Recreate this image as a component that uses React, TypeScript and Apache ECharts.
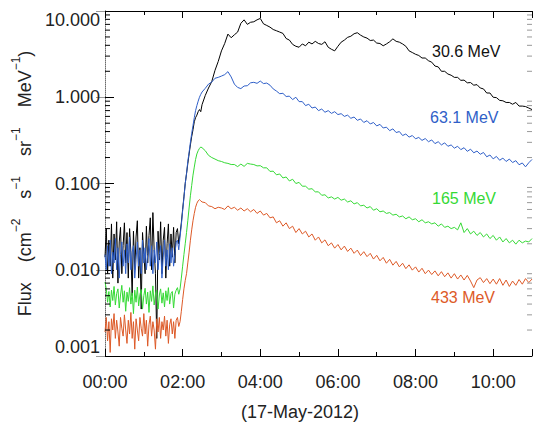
import React, { useEffect, useRef } from 'react';
import * as echarts from 'echarts';

// sample times (minutes after 00:00, 17-May-2012)
const preTimes = [0, 2, 4, 6, 8, 10, 12, 14, 16, 18, 20, 22, 24, 26, 28, 30, 32, 34, 36, 38, 40, 42, 44, 46, 48, 50, 52, 54, 56, 58, 60, 62, 64, 66, 68, 70, 72, 74, 76, 78, 80, 82, 84, 86, 88, 90, 92, 94, 96, 98, 100, 102, 104, 106, 108, 110, 112];
const riseTimes = [114, 116, 118, 120, 122, 124, 126, 128, 130, 132, 134, 136, 138, 140, 142, 144, 146, 148, 150];
const decayTimes = [155, 160, 165, 170, 175, 180, 185, 190, 195, 200, 205, 210, 215, 220, 225, 230, 235, 240, 245, 250, 255, 260, 265, 270, 275, 280, 285, 290, 295, 300, 305, 310, 315, 320, 325, 330, 335, 340, 345, 350, 355, 360, 365, 370, 375, 380, 385, 390, 395, 400, 405, 410, 415, 420, 425, 430, 435, 440, 445, 450, 455, 460, 465, 470, 475, 480, 485, 490, 495, 500, 505, 510, 515, 520, 525, 530, 535, 540, 545, 550, 555, 560, 565, 570, 575, 580, 585, 590, 595, 600, 605, 610, 615, 620, 625, 630, 635, 640, 645, 650, 655, 660];

// 30.6 MeV
const blackPre = [0.014, 0.030, 0.009, 0.022, 0.011, 0.034, 0.008, 0.026, 0.013, 0.036, 0.007, 0.021, 0.031, 0.009, 0.019, 0.035, 0.012, 0.027, 0.008, 0.030, 0.016, 0.005, 0.028, 0.010, 0.024, 0.037, 0.008, 0.018, 0.0035, 0.027, 0.015, 0.009, 0.032, 0.012, 0.025, 0.040, 0.010, 0.046, 0.017, 0.009, 0.0016, 0.028, 0.013, 0.036, 0.009, 0.022, 0.031, 0.008, 0.020, 0.034, 0.011, 0.026, 0.014, 0.031, 0.012, 0.027, 0.030];
const blackRise = [0.020, 0.026, 0.035, 0.050, 0.070, 0.100, 0.130, 0.170, 0.220, 0.280, 0.350, 0.420, 0.520, 0.580, 0.620, 0.680, 0.720, 0.680, 0.820];
const blackDecay = [1.05, 1.28, 1.52, 2.05, 2.6, 3.45, 4.2, 5.4, 4.9, 5.3, 5.7, 7.2, 7.9, 7.0, 7.4, 7.5, 7.9, 8.2, 7.1, 6.8, 6.5, 6.1, 5.9, 5.7, 5.5, 4.8, 4.6, 4.1, 3.9, 3.8, 4.15, 3.95, 4.35, 4.15, 4.45, 4.2, 4.1, 4.4, 3.8, 3.6, 3.45, 3.9, 4.35, 4.6, 4.95, 5.1, 5.45, 5.6, 5.25, 5.0, 4.85, 4.55, 4.6, 4.25, 4.2, 3.95, 4.15, 4.4, 4.75, 4.45, 4.35, 4.15, 3.9, 3.45, 3.3, 3.15, 3.05, 2.85, 2.85, 2.65, 2.55, 2.3, 2.25, 2.0, 2.0, 1.86, 1.8, 1.7, 1.7, 1.57, 1.58, 1.47, 1.48, 1.38, 1.4, 1.28, 1.25, 1.12, 1.12, 1.0, 0.99, 0.92, 0.91, 0.87, 0.87, 0.83, 0.87, 0.79, 0.79, 0.78, 0.75, 0.72];

// 63.1 MeV
const bluePre = [0.015, 0.010, 0.019, 0.011, 0.022, 0.009, 0.016, 0.012, 0.023, 0.010, 0.018, 0.008, 0.015, 0.021, 0.011, 0.017, 0.009, 0.020, 0.012, 0.024, 0.010, 0.016, 0.019, 0.008, 0.013, 0.021, 0.011, 0.017, 0.009, 0.022, 0.012, 0.018, 0.010, 0.015, 0.023, 0.011, 0.019, 0.009, 0.017, 0.012, 0.021, 0.010, 0.015, 0.019, 0.008, 0.014, 0.022, 0.011, 0.017, 0.010, 0.020, 0.012, 0.018, 0.011, 0.015, 0.021, 0.022];
const blueRise = [0.017, 0.024, 0.033, 0.048, 0.068, 0.100, 0.130, 0.180, 0.230, 0.300, 0.380, 0.470, 0.580, 0.700, 0.800, 0.900, 1.000, 1.080, 1.150];
const blueDecay = [1.27, 1.42, 1.5, 1.66, 1.7, 1.76, 1.83, 1.98, 1.72, 1.42, 1.3, 1.26, 1.35, 1.36, 1.47, 1.49, 1.45, 1.54, 1.44, 1.46, 1.38, 1.25, 1.18, 1.1, 1.11, 1.02, 1.03, 0.94, 1.0, 0.89, 0.89, 0.8, 0.83, 0.75, 0.77, 0.7, 0.73, 0.67, 0.7, 0.65, 0.68, 0.63, 0.645, 0.6, 0.62, 0.57, 0.59, 0.54, 0.56, 0.51, 0.535, 0.49, 0.51, 0.465, 0.485, 0.44, 0.45, 0.41, 0.43, 0.39, 0.4, 0.36, 0.375, 0.345, 0.36, 0.33, 0.342, 0.316, 0.332, 0.305, 0.32, 0.29, 0.305, 0.28, 0.296, 0.27, 0.28, 0.257, 0.27, 0.247, 0.26, 0.236, 0.25, 0.227, 0.238, 0.218, 0.229, 0.204, 0.214, 0.193, 0.206, 0.186, 0.197, 0.18, 0.192, 0.175, 0.184, 0.165, 0.173, 0.156, 0.174, 0.19];

// 165 MeV
const greenPre = [0.0072, 0.0060, 0.0042, 0.0056, 0.0037, 0.0058, 0.0044, 0.0064, 0.0039, 0.0053, 0.0060, 0.0036, 0.0051, 0.0066, 0.0042, 0.0057, 0.0033, 0.0055, 0.0043, 0.0062, 0.0040, 0.0054, 0.0031, 0.0058, 0.0042, 0.0063, 0.0038, 0.0052, 0.0059, 0.0035, 0.0050, 0.0061, 0.0040, 0.0055, 0.0032, 0.0057, 0.0043, 0.0065, 0.0039, 0.0052, 0.0058, 0.0035, 0.0051, 0.0060, 0.0041, 0.0054, 0.0037, 0.0057, 0.0044, 0.0062, 0.0040, 0.0053, 0.0056, 0.0036, 0.0052, 0.0058, 0.0062];
const greenRise = [0.0052, 0.0060, 0.0080, 0.011, 0.015, 0.020, 0.027, 0.037, 0.052, 0.072, 0.095, 0.125, 0.155, 0.190, 0.220, 0.240, 0.255, 0.265, 0.260];
const greenDecay = [0.24, 0.212, 0.2, 0.192, 0.184, 0.18, 0.174, 0.171, 0.166, 0.166, 0.157, 0.168, 0.158, 0.171, 0.168, 0.166, 0.16, 0.161, 0.152, 0.152, 0.138, 0.139, 0.126, 0.129, 0.116, 0.119, 0.107, 0.112, 0.1, 0.103, 0.093, 0.093, 0.086, 0.087, 0.08, 0.08, 0.073, 0.074, 0.068, 0.07, 0.066, 0.069, 0.064, 0.066, 0.061, 0.063, 0.058, 0.06, 0.055, 0.056, 0.052, 0.054, 0.049, 0.051, 0.047, 0.048, 0.045, 0.046, 0.043, 0.044, 0.041, 0.042, 0.039, 0.041, 0.038, 0.039, 0.036, 0.038, 0.035, 0.036, 0.034, 0.035, 0.032, 0.034, 0.031, 0.032, 0.03, 0.031, 0.029, 0.035, 0.027, 0.03, 0.026, 0.028, 0.025, 0.027, 0.024, 0.026, 0.023, 0.025, 0.022, 0.024, 0.021, 0.023, 0.0205, 0.022, 0.0198, 0.022, 0.0205, 0.0215, 0.021, 0.023];

// 433 MeV
const redPre = [0.0019, 0.0028, 0.0015, 0.0025, 0.0011, 0.0027, 0.0020, 0.0031, 0.0016, 0.0026, 0.0019, 0.0013, 0.0028, 0.0021, 0.0017, 0.0030, 0.0020, 0.0014, 0.0026, 0.0018, 0.0032, 0.0016, 0.0025, 0.0012, 0.0027, 0.0020, 0.0015, 0.0028, 0.0021, 0.0017, 0.0031, 0.0018, 0.0026, 0.0013, 0.0023, 0.0029, 0.0017, 0.0025, 0.0020, 0.0012, 0.0027, 0.0019, 0.0028, 0.0016, 0.0025, 0.0020, 0.0029, 0.0017, 0.0026, 0.0014, 0.0023, 0.0027, 0.0018, 0.0025, 0.0016, 0.0026, 0.0028];
const redRise = [0.0022, 0.0025, 0.0033, 0.0045, 0.0060, 0.0075, 0.0090, 0.012, 0.016, 0.022, 0.029, 0.037, 0.045, 0.053, 0.059, 0.063, 0.065, 0.063, 0.061];
const redDecay = [0.060, 0.055, 0.054, 0.051, 0.053, 0.052, 0.050, 0.055, 0.051, 0.053, 0.049, 0.052, 0.048, 0.051, 0.047, 0.05, 0.045, 0.048, 0.043, 0.045, 0.040, 0.041, 0.035, 0.037, 0.032, 0.035, 0.03, 0.032, 0.027, 0.03, 0.026, 0.028, 0.024, 0.026, 0.022, 0.024, 0.0205, 0.0222, 0.019, 0.0205, 0.0178, 0.0196, 0.017, 0.0188, 0.0163, 0.0178, 0.0155, 0.0169, 0.0146, 0.0162, 0.0142, 0.0155, 0.0133, 0.0147, 0.0127, 0.0139, 0.0119, 0.0132, 0.0113, 0.0125, 0.0108, 0.0119, 0.0103, 0.0114, 0.0099, 0.0108, 0.0094, 0.0104, 0.009, 0.0099, 0.0088, 0.0097, 0.0085, 0.0095, 0.0083, 0.0092, 0.008, 0.009, 0.0078, 0.0087, 0.0076, 0.0086, 0.0074, 0.0062, 0.0076, 0.0081, 0.0071, 0.0079, 0.0069, 0.0078, 0.0068, 0.0079, 0.0066, 0.0076, 0.0064, 0.0074, 0.0066, 0.0077, 0.0068, 0.0079, 0.0071, 0.0078];

const seriesNames = ['30.6 MeV', '63.1 MeV', '165 MeV', '433 MeV'];
const seriesColors = ['#000000', '#2f5fc8', '#35d935', '#dd5a28'];
const minorLogTicks = [0.002, 0.003, 0.004, 0.005, 0.006, 0.007, 0.008, 0.009, 0.02, 0.03, 0.04, 0.05, 0.06, 0.07, 0.08, 0.09, 0.2, 0.3, 0.4, 0.5, 0.6, 0.7, 0.8, 0.9, 2, 3, 4, 5, 6, 7, 8, 9];

const allTimes = [...preTimes, ...riseTimes, ...decayTimes];
const seriesValues = [
  [...blackPre, ...blackRise, ...blackDecay],
  [...bluePre, ...blueRise, ...blueDecay],
  [...greenPre, ...greenRise, ...greenDecay],
  [...redPre, ...redRise, ...redDecay],
];

const FONT = 'Liberation Sans';

function hourLabel(v: number) {
  if (v % 120 !== 0) return '';
  const h = Math.round(v / 60);
  return (h < 10 ? '0' : '') + h + ':00';
}

function xAxisDef(position: string, interval: number, tickLen: number, showLabel: boolean, showLine: boolean) {
  return {
    type: 'value',
    position,
    min: 0,
    max: 660,
    interval,
    gridIndex: 0,
    axisLine: { show: showLine, onZero: false, lineStyle: { color: '#000', width: 1 } },
    axisTick: { show: true, inside: true, length: tickLen, lineStyle: { color: '#000', width: 1 } },
    axisLabel: {
      show: showLabel,
      formatter: hourLabel,
      fontFamily: FONT,
      fontSize: 18,
      color: '#222',
      margin: 17,
    },
    splitLine: { show: false },
  };
}

export default function App() {
  const ref = useRef<HTMLDivElement>(null);
  useEffect(() => {
    const chart = echarts.init(ref.current!, null, { renderer: 'svg' });
    const lineSeries = seriesValues.map((vals, i) => ({
      name: seriesNames[i],
      type: 'line',
      xAxisIndex: 0,
      yAxisIndex: 0,
      data: allTimes.map((t, j) => [t, vals[j]]),
      showSymbol: false,
      symbol: 'none',
      lineStyle: { color: seriesColors[i], width: 1 },
      itemStyle: { color: seriesColors[i] },
      z: 3,
    }));
    const option: any = {
      animation: false,
      backgroundColor: '#fff',
      grid: { left: 105, right: 2, top: 11, bottom: 70, containLabel: false },
      xAxis: [
        xAxisDef('bottom', 120, 7, true, true),
        xAxisDef('bottom', 60, 4, false, false),
        xAxisDef('top', 120, 7, false, true),
        xAxisDef('top', 60, 4, false, false),
      ],
      yAxis: [
        {
          type: 'log',
          logBase: 10,
          min: 0.001,
          max: 10,
          position: 'left',
          name: '{n|Flux    (cm}{s|−2}{n|    s}{s|−1}{n|    sr}{s|−1}{n|    MeV}{s|−1}{n|)}',
          nameLocation: 'middle',
          nameRotate: 90,
          nameGap: 66,
          nameTextStyle: {
            rich: {
              n: { fontFamily: FONT, fontSize: 18, color: '#222', lineHeight: 24, verticalAlign: 'bottom' },
              s: { fontFamily: FONT, fontSize: 12, color: '#222', lineHeight: 12, verticalAlign: 'top' },
            },
          },
          axisLine: { show: true, lineStyle: { color: '#000', width: 1 } },
          axisTick: { show: true, inside: true, length: 9, lineStyle: { color: '#000' } },
          axisLabel: {
            formatter: (v: number) => v.toFixed(3),
            fontFamily: FONT,
            fontSize: 18,
            color: '#222',
            margin: 5,
            verticalAlignMinLabel: 'bottom',
            verticalAlignMaxLabel: 'top',
          },
          splitLine: { show: false },
        },
        {
          type: 'log',
          logBase: 10,
          min: 0.001,
          max: 10,
          position: 'right',
          axisLine: { show: true, lineStyle: { color: '#aaa', width: 1, type: 'dotted' } },
          axisTick: { show: true, inside: true, length: 9, lineStyle: { color: '#999' } },
          axisLabel: { show: false },
          splitLine: { show: false },
        },
      ],
      series: [
        ...lineSeries,
        {
          type: 'custom',
          xAxisIndex: 0,
          yAxisIndex: 0,
          silent: true,
          z: 5,
          data: minorLogTicks.map((v) => [0, v]),
          renderItem: (params: any, api: any) => {
            const p = api.coord([0, api.value(1)]);
            const cs = params.coordSys;
            return {
              type: 'group',
              children: [
                { type: 'line', shape: { x1: cs.x, y1: p[1], x2: cs.x + 5, y2: p[1] }, style: { stroke: '#000', lineWidth: 1 } },
                { type: 'line', shape: { x1: cs.x + cs.width, y1: p[1], x2: cs.x + cs.width - 5, y2: p[1] }, style: { stroke: '#999', lineWidth: 1 } },
              ],
            };
          },
        },
      ],
      graphic: [
        { type: 'text', x: 432, y: 51, style: { text: seriesNames[0], fill: '#111', fontFamily: FONT, fontSize: 16, verticalAlign: 'middle' } },
        { type: 'text', x: 430, y: 117, style: { text: seriesNames[1], fill: seriesColors[1], fontFamily: FONT, fontSize: 16, verticalAlign: 'middle' } },
        { type: 'text', x: 432, y: 198, style: { text: seriesNames[2], fill: seriesColors[2], fontFamily: FONT, fontSize: 16, verticalAlign: 'middle' } },
        { type: 'text', x: 431, y: 297, style: { text: seriesNames[3], fill: seriesColors[3], fontFamily: FONT, fontSize: 16, verticalAlign: 'middle' } },
        { type: 'text', x: 300, y: 412, style: { text: '(17-May-2012)', fill: '#222', fontFamily: FONT, fontSize: 18, align: 'center', verticalAlign: 'middle' } },
      ],
    };
    chart.setOption(option);
    return () => chart.dispose();
  }, []);
  return <div ref={ref} style={{ position: 'absolute', left: 0, top: 0, width: 535, height: 426, background: '#fff' }} />;
}
